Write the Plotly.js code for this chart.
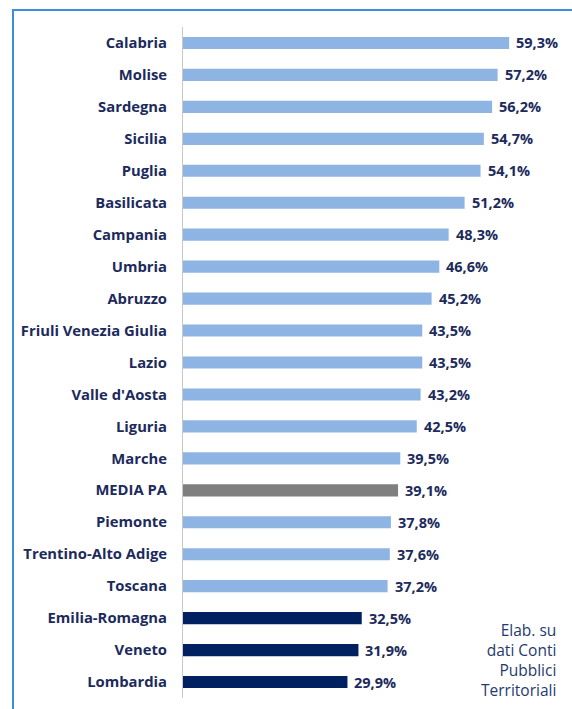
<!DOCTYPE html>
<html>
<head>
<meta charset="utf-8">
<script src="https://cdn.plot.ly/plotly-3.0.1.min.js"></script>
<style>
html,body{margin:0;padding:0;background:#fff;}
#frame{position:absolute;left:12px;top:9px;width:570px;height:710px;border-left:2px solid #3b8fd9;border-top:2px solid #3b8fd9;pointer-events:none;}
#chart{position:absolute;left:0;top:0;width:572px;height:709px;}
</style>
</head>
<body>
<div id="chart"></div>
<div id="frame"></div>
<script>
const regions = ["Calabria","Molise","Sardegna","Sicilia","Puglia","Basilicata","Campania","Umbria","Abruzzo","Friuli Venezia Giulia","Lazio","Valle d'Aosta","Liguria","Marche","MEDIA PA","Piemonte","Trentino-Alto Adige","Toscana","Emilia-Romagna","Veneto","Lombardia"];
const values = [59.3,57.2,56.2,54.7,54.1,51.2,48.3,46.6,45.2,43.5,43.5,43.2,42.5,39.5,39.1,37.8,37.6,37.2,32.5,31.9,29.9];
const groups = ["other","other","other","other","other","other","other","other","other","other","other","other","other","other","avg","other","other","other","top","top","top"];
const sourceNote = ["Elab. su","dati Conti","Pubblici","Territoriali"];

const colorMap = {other:"#8db4e3", avg:"#7f7f7f", top:"#002060"};
const navy = "#1c2a5c";
const FONT = "'Open Sans', Lato, sans-serif";

const fmt = v => v.toFixed(1).replace(".", ",") + "%";

const trace = {
  type: "bar",
  orientation: "h",
  y: regions,
  x: values,
  marker: {color: groups.map(g => colorMap[g])},
  hoverinfo: "none"
};

const annotations = regions.map((r, i) => ({
  x: values[i], y: r, xref: "x", yref: "y",
  text: "<b>" + fmt(values[i]) + "</b>",
  showarrow: false, xanchor: "left", xshift: 5,
  font: {family: FONT, size: 14.5, color: navy}
}));

annotations.push({
  xref: "paper", yref: "paper", x: 0.975, y: -0.008, xanchor: "right", yanchor: "bottom",
  text: sourceNote.join("<br>"), showarrow: false, align: "right",
  font: {family: FONT, size: 15.5, color: "#1f3a6e"}
});

const layout = {
  width: 572, height: 709,
  margin: {l: 183, r: 4, t: 27, b: 11},
  paper_bgcolor: "#fff", plot_bgcolor: "#fff",
  bargap: 0.62,
  showlegend: false,
  xaxis: {range: [0, 70], visible: false, fixedrange: true},
  yaxis: {
    autorange: "reversed", type: "category",
    showline: true, linecolor: "#c8c8c8", linewidth: 1,
    showgrid: false, ticks: "", ticklabelstandoff: 12,
    tickfont: {family: FONT, size: 14.8, color: navy, weight: "bold"},
    fixedrange: true
  },
  annotations: annotations
};

Plotly.newPlot("chart", [trace], layout, {displayModeBar: false, staticPlot: true});
</script>
</body>
</html>
